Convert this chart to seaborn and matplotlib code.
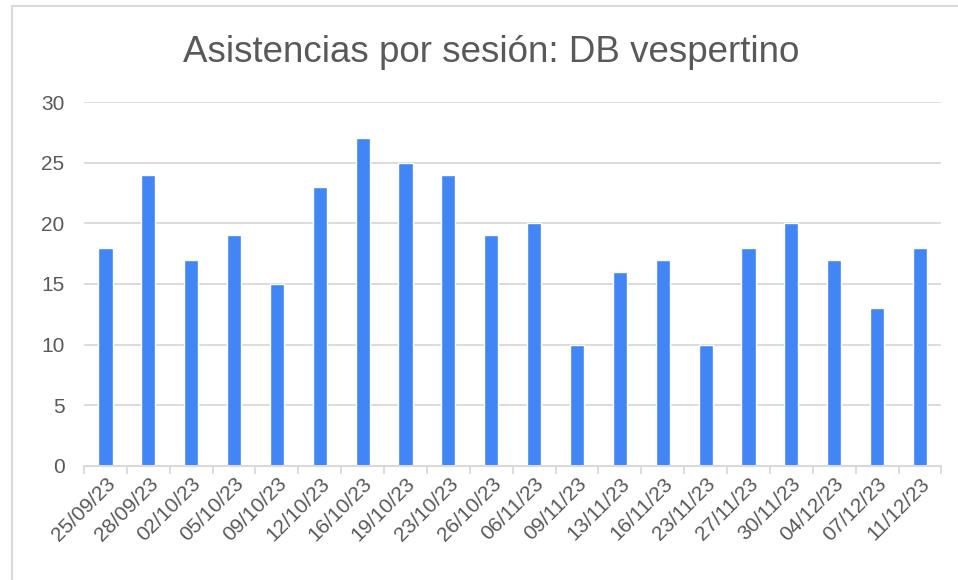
import pandas as pd
import matplotlib.pyplot as plt
import seaborn as sns
from matplotlib.lines import Line2D

fechas = ["25/09/23", "28/09/23", "02/10/23", "05/10/23", "09/10/23", "12/10/23",
          "16/10/23", "19/10/23", "23/10/23", "26/10/23", "06/11/23", "09/11/23",
          "13/11/23", "16/11/23", "23/11/23", "27/11/23", "30/11/23", "04/12/23",
          "07/12/23", "11/12/23"]
asistencias = [18, 24, 17, 19, 15, 23, 27, 25, 24, 19, 20, 10, 16, 17, 10, 18, 20, 17, 13, 18]

df = pd.DataFrame({"fecha": fechas, "asistencias": asistencias})

sns.set_style("white")
plt.rcParams["font.family"] = ["Liberation Sans", "DejaVu Sans"]

fig = plt.figure(figsize=(9.58, 5.8), dpi=100)
ax = fig.add_axes([0.0877, 0.197, 0.895, 0.627])

sns.barplot(x="fecha", y="asistencias", data=df, color="#4285F4", width=0.33,
            saturation=1, ax=ax)

ax.set_ylim(0, 30)
ax.set_xlim(-0.5, len(fechas) - 0.5)
ax.set_yticks(range(0, 31, 5))
ax.yaxis.grid(True, color="#d9d9d9", linewidth=1.3)
ax.set_axisbelow(True)
for s in ["left", "right", "top"]:
    ax.spines[s].set_visible(False)
ax.spines["bottom"].set_color("#d9d9d9")
ax.spines["bottom"].set_linewidth(1.5)

# ticks between categories
ax.set_xticks([i - 0.5 for i in range(len(fechas) + 1)], minor=True)
ax.tick_params(axis="x", which="minor", length=6, width=1.3, color="#d9d9d9", bottom=True)
ax.tick_params(axis="x", which="major", length=0, pad=6)
ax.tick_params(axis="y", length=0, pad=14)
ax.set_xticks(range(len(fechas)))
ax.set_xticklabels(fechas, rotation=45, ha="right", rotation_mode="anchor",
                   fontsize=15, color="#595959")
for t in ax.get_yticklabels():
    t.set_fontsize(15)
    t.set_color("#595959")
ax.set_xlabel("")
ax.set_ylabel("")

fig.suptitle("Asistencias por sesión: DB vespertino", fontsize=26.5, color="#595959",
             x=0.513, y=0.94)

# chart frame
fig.add_artist(Line2D([0.0125, 0.0125], [0, 0.99], color="#d9d9d9", lw=1.5, transform=fig.transFigure))
fig.add_artist(Line2D([0.0125, 1.0], [0.99, 0.99], color="#d9d9d9", lw=1.5, transform=fig.transFigure))

plt.savefig("out.png", dpi=100)
